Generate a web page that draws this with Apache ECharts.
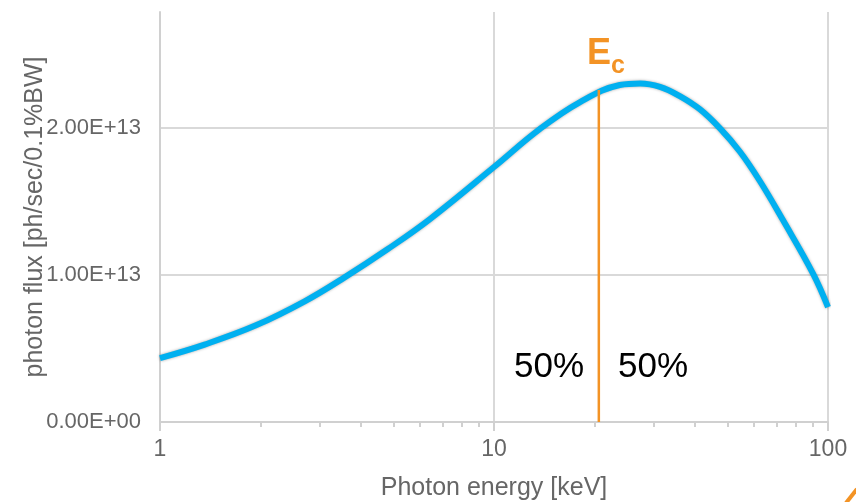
<!DOCTYPE html>
<html>
<head>
<meta charset="utf-8">
<script src="https://cdn.jsdelivr.net/npm/echarts@6/dist/echarts.min.js"></script>
<style>
html,body{margin:0;padding:0;background:#fff;}
#c{width:856px;height:502px;}
</style>
</head>
<body>
<div id="c"></div>
<script>
// Photon energy [keV] and photon flux [ph/sec/0.1%BW]
var energy = [1, 1.36, 1.93, 2.72, 3.58, 4.81, 6.43, 10, 13.7, 18.1, 23.8, 27.4, 31.4, 36, 41.4, 47.5, 54.5, 62.5, 73.3, 90.2, 100];
var flux = [0.435e13, 0.527e13, 0.656e13, 0.823e13, 0.986e13, 1.177e13, 1.381e13, 1.735e13, 1.993e13, 2.177e13, 2.293e13, 2.304e13, 2.281e13, 2.218e13, 2.127e13, 1.998e13, 1.839e13, 1.64e13, 1.374e13, 1.01e13, 0.782e13];
// Critical energy marker
var ecEnergy = [20.6, 20.6];
var ecFlux = [0, 2.26e13];
// Tick values
var xMajorTicks = [1, 10, 100];
var xMinorTicks = [2,3,4,5,6,7,8,9,20,30,40,50,60,70,80,90];
var yTicks = [0, 1e13, 2e13];

var font = 'Liberation Sans, Arial, sans-serif';
var orange = '#f39325';
var chart = echarts.init(document.getElementById('c'));
chart.setOption({
  animation: false,
  backgroundColor: '#fff',
  grid: {left: 160, right: 28, top: 12, bottom: 80, containLabel: false, outerBoundsMode: 'none'},
  xAxis: [{
    type: 'log', logBase: 10, min: 1, max: 100,
    name: 'Photon energy [keV]', nameLocation: 'middle', nameGap: 54, nameMoveOverlap: false,
    nameTextStyle: {fontFamily: font, fontSize: 25, color: '#666'},
    axisLine: {show: true, lineStyle: {color: '#d0d0d0', width: 2}},
    axisTick: {show: true, customValues: xMajorTicks, length: 9, lineStyle: {color: '#d0d0d0', width: 2}},
    axisLabel: {fontFamily: font, fontSize: 23, color: '#666', margin: 16,
      customValues: xMajorTicks, formatter: function (v) { return String(Math.round(v)); }},
    splitLine: {show: true, lineStyle: {color: '#d9d9d9', width: 2}},
    minorTick: {show: false}
  }, {
    type: 'log', logBase: 10, min: 1, max: 100, position: 'bottom',
    axisLine: {show: false},
    axisTick: {show: true, customValues: xMinorTicks, length: 5, lineStyle: {color: '#d0d0d0', width: 2}},
    axisLabel: {show: false},
    splitLine: {show: false}
  }],
  yAxis: {
    type: 'value', min: 0, max: 2.79e13, interval: 1e13,
    name: 'photon flux [ph/sec/0.1%BW]', nameLocation: 'middle', nameGap: 112, nameMoveOverlap: false,
    nameTextStyle: {fontFamily: font, fontSize: 25, color: '#666'},
    axisLine: {show: true, lineStyle: {color: '#d0d0d0', width: 2}},
    axisTick: {show: false},
    axisLabel: {fontFamily: font, fontSize: 22, color: '#666', margin: 19, showMaxLabel: false,
      formatter: function (v) {
        if (yTicks.indexOf(v) < 0) return '';
        var s = v.toExponential(2).toUpperCase();
        return s.replace(/E\+(\d)$/, 'E+0$1');
      }},
    splitLine: {show: true, showMaxLine: false, lineStyle: {color: '#d9d9d9', width: 2}}
  },
  series: [{
    type: 'line', smooth: 0.4, symbol: 'none',
    data: energy.map(function (e, i) { return [e, flux[i]]; }),
    lineStyle: {color: '#00b0f0', width: 6, shadowColor: 'rgba(0,0,0,0.35)', shadowBlur: 3},
    z: 3
  }, {
    type: 'line', symbol: 'none',
    data: ecEnergy.map(function (e, i) { return [e, ecFlux[i]]; }),
    lineStyle: {color: orange, width: 2.5},
    z: 4
  }],
  graphic: [
    {type: 'text', left: 587, top: 36, style: {
      text: '{e|E}{c|c}', fontFamily: font,
      rich: {
        e: {fontSize: 36, fontWeight: 'bold', fill: orange, fontFamily: font, verticalAlign: 'bottom'},
        c: {fontSize: 25, fontWeight: 'bold', fill: orange, fontFamily: font, verticalAlign: 'bottom', padding: [0,0,-7,0]}
      }}},
    {type: 'text', left: 514, top: 350, style: {text: '50%', fontSize: 35, fontFamily: font, fill: '#000'}},
    {type: 'text', left: 618, top: 350, style: {text: '50%', fontSize: 35, fontFamily: font, fill: '#000'}},
    {type: 'line', shape: {x1: 846, y1: 503, x2: 857, y2: 489}, style: {stroke: orange, lineWidth: 4}}
  ]
});
</script>
</body>
</html>
